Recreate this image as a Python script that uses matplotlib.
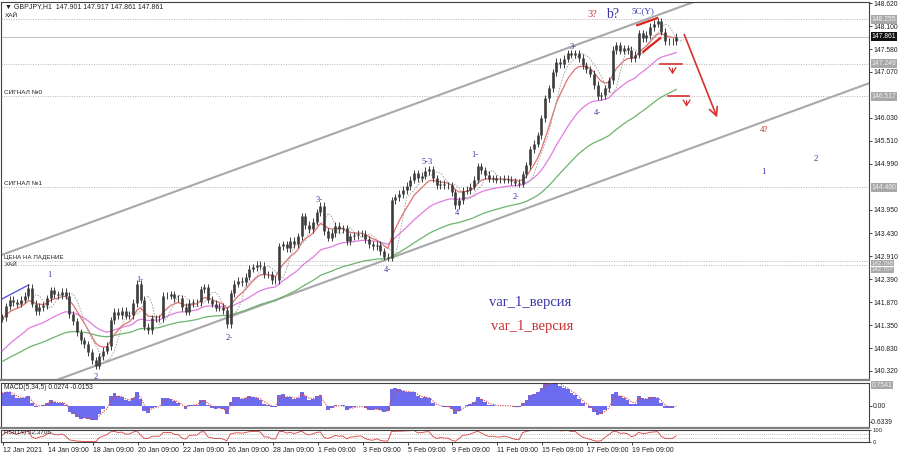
import numpy as np
import matplotlib
matplotlib.use('Agg')
import matplotlib.pyplot as plt

# ---------------- data ----------------
bar_start_hour = 8      # trading hours since 12 Jan 00:00 (weekends removed)
bar_step_hours = 4      # 4-hour bars
closes = [
    141.53, 141.78, 141.92, 141.87, 141.83, 141.92, 142.01, 142.19, 141.83, 141.67,
    141.76, 141.80, 141.96, 142.14, 142.05, 142.03, 142.10, 142.01, 141.60, 141.44,
    141.19, 141.01, 140.92, 140.74, 140.56, 140.43, 140.65, 140.77, 140.88, 141.46,
    141.65, 141.58, 141.67, 141.56, 141.58, 141.85, 142.28, 141.92, 141.31, 141.24,
    141.51, 141.51, 141.51, 142.01, 142.01, 142.05, 141.96, 141.96, 141.76, 141.65,
    141.85, 141.87, 141.87, 142.16, 142.21, 141.92, 141.83, 141.74, 141.76, 141.69,
    141.37, 142.07, 142.28, 142.35, 142.32, 142.44, 142.62, 142.66, 142.71, 142.69,
    142.50, 142.50, 142.37, 142.37, 143.13, 143.18, 143.09, 143.25, 143.18, 143.36,
    143.81, 143.61, 143.52, 143.68, 143.90, 144.04, 143.47, 143.32, 143.43, 143.59,
    143.52, 143.54, 143.25, 143.36, 143.38, 143.41, 143.41, 143.29, 143.18, 143.13,
    143.16, 143.02, 142.89, 142.87, 144.17, 144.24, 144.31, 144.40, 144.49, 144.63,
    144.78, 144.67, 144.72, 144.83, 144.87, 144.67, 144.51, 144.54, 144.51, 144.51,
    144.35, 144.06, 144.17, 144.38, 144.40, 144.47, 144.63, 144.94, 144.85, 144.74,
    144.65, 144.67, 144.63, 144.63, 144.65, 144.63, 144.60, 144.56, 144.54, 144.76,
    144.96, 145.32, 145.44, 145.64, 146.02, 146.47, 146.70, 147.06, 147.29, 147.24,
    147.36, 147.49, 147.45, 147.49, 147.38, 147.22, 147.13, 147.02, 146.77, 146.52,
    146.54, 146.70, 146.88, 147.56, 147.67, 147.54, 147.60, 147.56, 147.38, 147.45,
    147.94, 147.83, 147.90, 148.08, 148.15, 148.21, 147.97, 147.76, 147.76, 147.76,
    147.86,
]
first_open = 141.50
wick_extra = 0.08

# moving-average start values read at the left edge
ma_red_seed, ma_red_n = 141.50, 8
ma_pink_seed, ma_pink_n = 140.70, 25
ma_green_seed, ma_green_n = 140.49, 55
macd_slow_seed = 140.95

tick_hours = [9, 57, 105, 153, 201, 249, 297, 345, 393, 441, 489, 537, 585, 633, 681]
tick_labels = ['12 Jan 2021', '14 Jan 09:00', '18 Jan 09:00', '20 Jan 09:00',
               '22 Jan 09:00', '26 Jan 09:00', '28 Jan 09:00', '1 Feb 09:00',
               '3 Feb 09:00', '5 Feb 09:00', '9 Feb 09:00', '11 Feb 09:00',
               '15 Feb 09:00', '17 Feb 09:00', '19 Feb 09:00']
price_ticks = [148.620, 148.100, 147.580, 147.070, 146.030, 145.510, 144.990,
               143.950, 143.430, 142.910, 142.390, 141.870, 141.350, 140.830, 140.320]

current_price = 147.861
level_prices = [148.255, 147.249, 146.517, 144.460, 142.798, 142.707]
level_names = ['ХАЙ', '', 'СИГНАЛ №0', 'СИГНАЛ №1', 'ЦЕНА НА ПАДЕНИЕ', 'ХАЙ']

# channel lines: (hour, price) anchors
upper_channel = [(6.9, 142.93), (933.8, 150.09)]
lower_channel = [(57.0, 140.04), (933.8, 146.81)]
blue_line = [(6.9, 141.93), (36.7, 142.26)]
red_lines = [[(686.3, 148.12), (707.7, 148.28)], [(692.7, 147.52), (710.9, 147.83)]]
red_arrow = [(735.4, 147.97), (772.7, 145.98)]
red_markers = [(710.9, 734.3, 147.249, 724.0), (719.4, 741.9, 146.517, 739.0)]

wave_labels = [('1', 58.1, 142.48), ('1-', 155.1, 142.37), ('2', 108.2, 140.17),
               ('2-', 250.1, 141.06), ('3-', 346.1, 144.17), ('4-', 419.7, 142.59),
               ('5-3', 462.3, 145.03), ('4', 493.3, 143.88), ('1-', 512.5, 145.19),
               ('2-', 557.3, 144.24), ('3-', 618.1, 147.63), ('4-', 643.7, 146.14)]

# ---------------- helpers ----------------
W, H = 899, 454
def box(x0, y0, x1, y1):
    return [x0 / W, 1 - y1 / H, (x1 - x0) / W, (y1 - y0) / H]

def ema(vals, n=None, seed=None, alpha=None):
    a = alpha if alpha is not None else 2.0 / (n + 1)
    e = vals[0] if seed is None else seed
    out = []
    for v in vals:
        e = e + a * (v - e)
        out.append(e)
    return np.array(out)

c = np.array(closes)
n = len(c)
hours = bar_start_hour + bar_step_hours * np.arange(n)
o = np.concatenate([[first_open], c[:-1]])
hi = np.maximum(o, c) + wick_extra
lo = np.minimum(o, c) - wick_extra

XL = (6.9, 933.8)
F = ['Liberation Sans', 'DejaVu Sans']
SER = ['Liberation Serif', 'DejaVu Serif']
BLUE = '#3535a5'
RED = '#c83030'
AXFS = 4.9

fig = plt.figure(figsize=(W / 100, H / 100), dpi=100)
fig.patch.set_facecolor('white')

# ---------------- main panel ----------------
ax = fig.add_axes(box(1, 2, 869, 380))
ax.set_xlim(*XL)
ax.set_ylim(140.112, 148.644)

for lvl in level_prices:
    ax.axhline(lvl, color='#b4b4b4', lw=0.7, ls=(0, (1, 1.5)), zorder=1)
ax.axhline(current_price, color='#c4c4c4', lw=0.8, zorder=1)

ax.plot([p[0] for p in upper_channel], [p[1] for p in upper_channel], color='#a8a8a8', lw=1.5, zorder=2)
ax.plot([p[0] for p in lower_channel], [p[1] for p in lower_channel], color='#a8a8a8', lw=1.5, zorder=2)
ax.plot([p[0] for p in blue_line], [p[1] for p in blue_line], color='#5a5ae0', lw=1.0, zorder=2)

# moving averages
ax.plot(hours, ema(c, ma_green_n, ma_green_seed), color='#6cb46c', lw=0.9, zorder=3)
ax.plot(hours, ema(c, ma_pink_n, ma_pink_seed), color='#e07ce0', lw=0.9, zorder=3)
ax.plot(hours, ema(c, ma_red_n, ma_red_seed), color='#e07070', lw=0.9, zorder=3)
sma3 = np.convolve(c, np.ones(3) / 3, mode='valid')
ax.plot(hours[2:] + 2 * bar_step_hours, sma3, color='#a0a0a0', lw=0.6, ls=(0, (2, 1.5)), zorder=3)

# candles
ax.vlines(hours, lo, hi, color='#3c3c3c', lw=0.7, zorder=4)
ax.vlines(hours, np.minimum(o, c), np.maximum(o, c) + 0.005, color='#3c3c3c', lw=1.9, zorder=4)

# red annotations
for seg in red_lines:
    ax.plot([seg[0][0], seg[1][0]], [seg[0][1], seg[1][1]], color='#e02020', lw=1.6, zorder=5)
ax.annotate('', xy=red_arrow[1], xytext=red_arrow[0],
            arrowprops=dict(arrowstyle='->,head_length=0.6,head_width=0.3', color='#d83030', lw=1.2), zorder=5)
for (h0, h1, lvl, harr) in red_markers:
    ax.plot([h0, h1], [lvl, lvl], color='#d83030', lw=1.2, zorder=5)
    ax.annotate('', xy=(harr, lvl - 0.30), xytext=(harr, lvl - 0.04),
                arrowprops=dict(arrowstyle='->,head_length=0.4,head_width=0.25', color='#d83030', lw=0.9), zorder=5)

# wave labels
for t, hh, pp in wave_labels:
    ax.text(hh, pp, t, color=BLUE, fontsize=6, family=SER, ha='center', va='center', zorder=6)
ax.text(638.3, 148.37, '3?', color=RED, fontsize=7.5, family=SER, ha='center', va='center')
ax.text(659.7, 148.37, 'b?', color=BLUE, fontsize=10, family=SER, ha='center', va='center')
ax.text(692.7, 148.44, '5C(Y)', color=BLUE, fontsize=6.5, family=SER, ha='center', va='center')
ax.text(821.8, 145.75, '4?', color=RED, fontsize=6.5, family=SER, ha='center', va='center')
ax.text(820.7, 144.81, '1', color=BLUE, fontsize=6.5, family=SER, ha='center', va='center')
ax.text(877.3, 145.10, '2', color=BLUE, fontsize=6.5, family=SER, ha='center', va='center')
ax.text(572.2, 141.87, 'var_1_версия', color=BLUE, fontsize=10.5, family=SER, ha='center', va='center')
ax.text(574.3, 141.31, 'var_1_версия', color=RED, fontsize=10.5, family=SER, ha='center', va='center')

# left level labels
yt = ax.get_yaxis_transform()
for lvl, name in zip(level_prices[:4], level_names[:4]):
    if name:
        ax.text(0.004, lvl + 0.02, name, transform=yt, fontsize=4.6,
                family=F, va='bottom', ha='left', color='#202020')
ax.text(0.004, level_prices[4] + 0.025, level_names[4], transform=yt, fontsize=4.4,
        family=F, va='bottom', ha='left', color='#202020')
ax.text(0.004, level_prices[4] - 0.01, level_names[5], transform=yt, fontsize=4.4,
        family=F, va='top', ha='left', color='#202020')
ax.text(0.005, 0.997, '▼ GBPJPY,H1  147.901 147.917 147.861 147.861', transform=ax.transAxes,
        fontsize=5, family=F, va='top', ha='left', color='#202020')

# price axis
ax.yaxis.tick_right()
ax.set_yticks(price_ticks)
ax.set_yticklabels(['%.3f' % p for p in price_ticks])
ax.tick_params(axis='y', direction='out', length=2, width=0.6, labelsize=AXFS, pad=1, colors='#202020')
for lab in ax.get_yticklabels():
    lab.set_family(F)
ax.set_xticks([])

def axis_box(axx, val, txt, fc, tc, va='center', fs=AXFS):
    axx.text(1.003, val, txt, transform=axx.get_yaxis_transform(), fontsize=fs, family=F,
             color=tc, va=va, ha='left',
             bbox=dict(boxstyle='square,pad=0.12', fc=fc, ec='none'), zorder=10, clip_on=False)

for lvl in level_prices[:4]:
    axis_box(ax, lvl, '%.3f' % lvl, '#a8a8a8', '#f0f0f0')
axis_box(ax, level_prices[4] + 0.01, '%.3f' % level_prices[4], '#a8a8a8', '#f0f0f0', va='top', fs=4.3)
axis_box(ax, level_prices[5] - 0.05, '%.3f' % level_prices[5], '#a8a8a8', '#f0f0f0', va='top', fs=4.3)
axis_box(ax, current_price, '%.3f' % current_price, '#111111', 'white')

for sp in ['top', 'left', 'right']:
    ax.spines[sp].set_color('#404040')
    ax.spines[sp].set_linewidth(0.8)
ax.spines['bottom'].set_color('#808080')
ax.spines['bottom'].set_linewidth(1.6)

# ---------------- MACD panel ----------------
ax2 = fig.add_axes(box(1, 383, 869, 428))
ax2.set_xlim(*XL)
ax2.set_ylim(-0.82, 0.83)
fast = ema(c, alpha=0.80, seed=c[0])
slow = ema(c, alpha=0.21, seed=macd_slow_seed)
macd = fast - slow
signal = ema(macd, alpha=0.6, seed=macd[0])
ax2.bar(hours, macd, width=bar_step_hours, color='#6c6cf0', linewidth=0, zorder=2)
ax2.plot(hours, signal, color='#d84040', lw=0.8, ls=(0, (1, 1.2)), zorder=3)
ax2.yaxis.tick_right()
ax2.set_yticks([0.0])
ax2.set_yticklabels(['0.00'])
ax2.tick_params(axis='y', direction='out', length=2, width=0.6, labelsize=AXFS, pad=1, colors='#202020')
for lab in ax2.get_yticklabels():
    lab.set_family(F)
ax2.set_xticks([])
axis_box(ax2, 0.7541, '0.7541', '#a8a8a8', '#f0f0f0')
ax2.text(1.001, -0.6339, '-0.6339', transform=ax2.get_yaxis_transform(), fontsize=AXFS, family=F,
         color='#202020', va='center', ha='left', clip_on=False)
ax2.text(0.003, 0.97, 'MACD(5,34,5) 0.0274 -0.0153', transform=ax2.transAxes, fontsize=4.8, family=F,
         va='top', ha='left', color='#202020')
for sp in ax2.spines.values():
    sp.set_color('#404040')
    sp.set_linewidth(0.8)
ax2.spines['bottom'].set_color('#808080')
ax2.spines['bottom'].set_linewidth(1.6)

# ---------------- RSI panel ----------------
ax3 = fig.add_axes(box(1, 430, 869, 442))
ax3.set_xlim(*XL)
ax3.set_ylim(0, 100)
d = np.diff(np.concatenate([[first_open], c]))
g = ema(np.clip(d, 0, None), alpha=1 / 3.5, seed=0.05)
l = ema(np.clip(-d, 0, None), alpha=1 / 3.5, seed=0.05)
rsi = 100 - 100 / (1 + g / l)
ax3.axhline(70, color='#b0b0b0', lw=0.6, ls=(0, (1, 1.5)))
ax3.axhline(30, color='#b0b0b0', lw=0.6, ls=(0, (1, 1.5)))
ax3.plot(hours, rsi, color='#d84040', lw=0.6)
ax3.text(0.003, 0.97, 'RSI(14) 52.3706', transform=ax3.transAxes, fontsize=4.6, family=F,
         va='top', ha='left', color='#202020')
ax3.yaxis.tick_right()
ax3.set_yticks([100, 0])
ax3.set_yticklabels(['100', '0'])
ax3.tick_params(axis='y', direction='out', length=1.5, width=0.5, labelsize=3.8, pad=1, colors='#202020')
ax3.set_xticks(tick_hours)
ax3.set_xticklabels(tick_labels)
ax3.tick_params(axis='x', direction='out', length=2, width=0.6, labelsize=5, pad=1.5, colors='#202020')
for lab in ax3.get_xticklabels():
    lab.set_family(F)
    lab.set_ha('left')
for sp in ax3.spines.values():
    sp.set_color('#404040')
    sp.set_linewidth(0.8)

fig.savefig('out.png', dpi=100, facecolor='white')
